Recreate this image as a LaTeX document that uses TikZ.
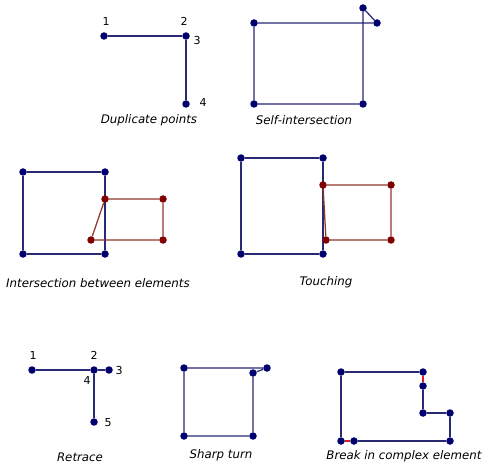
\documentclass[tikz,border=0pt]{standalone}
\usepackage{fontspec}
\setmainfont{DejaVu Sans}
\usetikzlibrary{positioning}

\definecolor{navy}{RGB}{0,0,110}
\definecolor{navyline}{RGB}{40,40,115}
\definecolor{maroon}{RGB}{128,0,0}
\definecolor{maroonline}{RGB}{145,55,40}
\definecolor{breakred}{RGB}{220,30,30}

\begin{document}
\begin{tikzpicture}[
  x=1pt, y=-1pt,
  vtx/.style={circle, fill=navy, inner sep=0pt, minimum size=7.5pt},
  vtxred/.style={vtx, fill=maroon},
  edge/.style={draw=navyline, line width=1.25pt},
  edgered/.style={draw=maroonline, line width=1.25pt},
  gap/.style={draw=breakred, line width=1.4pt},
  title/.style={font=\itshape\fontsize{11.8}{13}\selectfont, inner sep=0pt},
  num/.style={font=\fontsize{11}{13}\selectfont, inner sep=0pt},
]
  \useasboundingbox[fill=white] (0,0) rectangle (489,470);

  % duplicate points
  \node[vtx] (dp1) at (104,36) {};
  \node[vtx] (dp2) at (186,36) {};
  \node[vtx] (dp4) at (186,104) {};
  \draw[edge] (dp1) -- (dp2);
  \draw[edge] (dp2) -- (dp4);
  \node[num] at (106,21) {1};
  \node[num] at (184,21) {2};
  \node[num] at (197,40) {3};
  \node[num] at (203,102) {4};
  \node[title] at (149,120) {Duplicate points};

  % self-intersection
  \node[vtx] (si1) at (254,23) {};
  \node[vtx] (si2) at (377,23) {};
  \node[vtx] (si3) at (363,8) {};
  \node[vtx] (si4) at (363,104) {};
  \node[vtx] (si5) at (254,104) {};
  \draw[edge] (si1) -- (si2) -- (si3) -- (si4) -- (si5) -- (si1);
  \node[title] at (304,120) {Self-intersection};

  % intersection between elements
  \node[vtx] (ib1) at (23,172) {};
  \node[vtx] (ib2) at (105,172) {};
  \node[vtx] (ib3) at (105,254) {};
  \node[vtx] (ib4) at (23,254) {};
  \draw[edge] (ib1) -- (ib2) -- (ib3) -- (ib4) -- (ib1);
  \node[vtxred] (ir1) at (105,199) {};
  \node[vtxred] (ir2) at (163,199) {};
  \node[vtxred] (ir3) at (163,240) {};
  \node[vtxred] (ir4) at (91,240) {};
  \draw[edgered] (ir1) -- (ir2) -- (ir3) -- (ir4) -- (ir1);
  \node[title] at (98,283) {Intersection between elements};

  % touching
  \node[vtx] (tb1) at (241,158) {};
  \node[vtx] (tb2) at (323,158) {};
  \node[vtx] (tb3) at (323,254) {};
  \node[vtx] (tb4) at (241,254) {};
  \draw[edge] (tb1) -- (tb2) -- (tb3) -- (tb4) -- (tb1);
  \node[vtxred] (tr1) at (323,185) {};
  \node[vtxred] (tr2) at (391,185) {};
  \node[vtxred] (tr3) at (391,240) {};
  \node[vtxred] (tr4) at (326,240) {};
  \draw[edgered] (tr1) -- (tr2) -- (tr3) -- (tr4) -- (tr1);
  \node[title] at (326,282) {Touching};

  % retrace
  \node[vtx] (rt1) at (32,370) {};
  \node[vtx] (rt2) at (94,370) {};
  \node[vtx] (rt3) at (109,370) {};
  \node[vtx] (rt5) at (94,422) {};
  \draw[edge] (rt1) -- (rt2) -- (rt3);
  \draw[edge] (rt2) -- (rt5);
  \node[num] at (33,355) {1};
  \node[num] at (94,355) {2};
  \node[num] at (119,370) {3};
  \node[num] at (87,380) {4};
  \node[num] at (108,423) {5};
  \node[title] at (80,457) {Retrace};

  % sharp turn
  \node[vtx] (st1) at (184,368) {};
  \node[vtx] (st2) at (267,368) {};
  \node[vtx] (st3) at (253,373) {};
  \node[vtx] (st4) at (253,436) {};
  \node[vtx] (st5) at (184,436) {};
  \draw[edge] (st1) -- (st2) -- (st3) -- (st4) -- (st5) -- (st1);
  \node[title] at (221,455) {Sharp turn};

  % break in complex element
  \node[vtx] (bk1) at (341,372) {};
  \node[vtx] (bk2) at (423,372) {};
  \node[vtx] (bk3) at (423,386) {};
  \node[vtx] (bk4) at (423,413) {};
  \node[vtx] (bk5) at (450,413) {};
  \node[vtx] (bk6) at (450,441) {};
  \node[vtx] (bk7) at (354,441) {};
  \node[vtx] (bk8) at (341,441) {};
  \draw[edge] (bk3) -- (bk4) -- (bk5) -- (bk6) -- (bk7);
  \draw[edge] (bk2) -- (bk1) -- (bk8);
  \draw[gap] (bk2) -- (bk3);
  \draw[gap] (bk8) -- (bk7);
  \node[title] at (404,456) {Break in complex element};
\end{tikzpicture}
\end{document}
